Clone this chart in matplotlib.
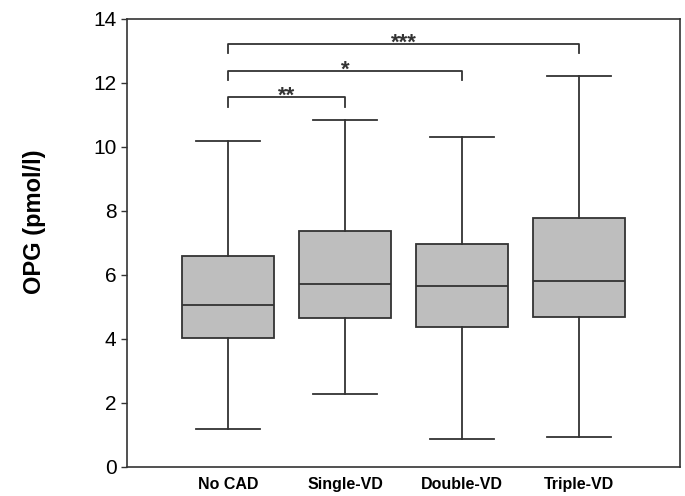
import matplotlib.pyplot as plt

plt.rcParams['font.family'] = ['Liberation Sans', 'DejaVu Sans']

groups = ['No CAD', 'Single-VD', 'Double-VD', 'Triple-VD']
whislo = [1.19, 2.29, 0.88, 0.94]
q1 = [4.03, 4.65, 4.39, 4.68]
med = [5.06, 5.71, 5.67, 5.82]
q3 = [6.59, 7.39, 6.96, 7.77]
whishi = [10.19, 10.84, 10.30, 12.21]

# significance brackets: (from group, to group, height, drop, label)
brackets = [(1, 2, 11.56, 11.25, '**'),
            (1, 3, 12.38, 12.09, '*'),
            (1, 4, 13.22, 12.94, '***')]

stats = []
for i, g in enumerate(groups):
    stats.append({'label': g, 'whislo': whislo[i], 'q1': q1[i], 'med': med[i],
                  'q3': q3[i], 'whishi': whishi[i], 'fliers': []})

fig = plt.figure(figsize=(6.85, 4.96), dpi=100)
ax = fig.add_axes([127 / 685, 29 / 496, 553 / 685, 448 / 496])

lc = '#333333'
ax.bxp(stats, positions=[1, 2, 3, 4], widths=0.78, patch_artist=True,
       showfliers=False,
       boxprops=dict(facecolor='#bebebe', edgecolor=lc, linewidth=1.3),
       medianprops=dict(color=lc, linewidth=1.3),
       whiskerprops=dict(color=lc, linewidth=1.3),
       capprops=dict(color=lc, linewidth=1.3),
       capwidths=0.55)

for a, b, h, d, lab in brackets:
    ax.plot([a, a, b, b], [d, h, h, d], color=lc, linewidth=1.3)
    ax.text((a + b) / 2, h - 0.15, lab, ha='center', va='baseline',
            fontsize=16, fontweight='bold', color=lc)

ax.set_xlim(0.137, 4.863)
ax.set_ylim(0, 14)
ax.set_yticks(range(0, 15, 2))
ax.tick_params(axis='y', labelsize=15, length=4, width=1, color=lc)
ax.tick_params(axis='x', length=0, pad=7)
ax.set_xticklabels(groups, fontsize=11.5, fontweight='bold')
ax.set_ylabel('OPG (pmol/l)', fontsize=17, fontweight='bold')
ax.yaxis.set_label_coords(-81 / 553, (467 - 222) / 448)
for s in ax.spines.values():
    s.set_color(lc)
    s.set_linewidth(1.2)

fig.savefig('out.png', dpi=100)
